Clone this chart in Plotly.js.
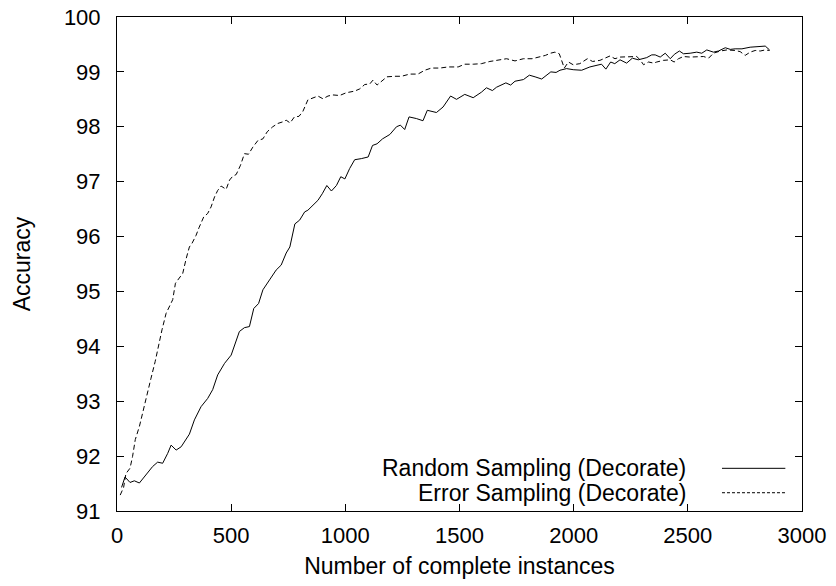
<!DOCTYPE html>
<html>
<head>
<meta charset="utf-8">
<script src="https://cdn.plot.ly/plotly-3.0.1.min.js"></script>
<style>html,body{margin:0;padding:0;background:#fff;}#chart{width:836px;height:586px;}</style>
</head>
<body>
<div id="chart"></div>
<script>
// Random Sampling (Decorate)
const randomX = [20,35,57,76,98,127,156,178,200,222,237,259,281,317,339,368,397,419,441,471,500,536,558,580,599,620,639,668,697,719,741,757,779,800,822,836,858,880,899,919,939,961,980,998,1019,1041,1070,1100,1119,1139,1163,1195,1224,1241,1260,1279,1311,1340,1359,1399,1428,1443,1461,1487,1523,1560,1596,1618,1644,1662,1684,1703,1724,1743,1780,1806,1831,1860,1900,1923,1940,1969,1998,2035,2071,2108,2122,2141,2162,2180,2203,2232,2257,2283,2320,2342,2357,2379,2401,2423,2441,2463,2481,2510,2539,2561,2583,2612,2634,2664,2686,2707,2737,2773,2803,2839,2858];
const randomY = [91.43,91.62,91.52,91.55,91.51,91.66,91.81,91.89,91.87,92.05,92.20,92.11,92.17,92.40,92.66,92.90,93.05,93.21,93.48,93.69,93.84,94.27,94.34,94.36,94.69,94.78,95.03,95.21,95.39,95.48,95.70,95.81,96.23,96.30,96.45,96.48,96.57,96.66,96.78,96.93,96.83,96.93,97.09,97.05,97.24,97.40,97.42,97.45,97.66,97.69,97.78,97.86,98.00,98.03,97.95,98.18,98.15,98.11,98.30,98.26,98.36,98.45,98.56,98.50,98.59,98.53,98.63,98.71,98.66,98.72,98.76,98.80,98.76,98.83,98.86,98.94,98.91,98.87,99.00,98.99,99.03,99.06,99.04,99.03,99.09,99.13,99.14,99.05,99.18,99.15,99.22,99.16,99.25,99.22,99.26,99.31,99.31,99.27,99.34,99.24,99.32,99.38,99.33,99.34,99.36,99.34,99.40,99.36,99.38,99.44,99.41,99.42,99.42,99.45,99.46,99.47,99.40];

// Error Sampling (Decorate)
const errorX = [14,29,39,57,68,80,98,115,132,149,167,181,197,215,229,244,256,273,288,303,317,329,346,360,380,397,412,427,441,456,478,493,507,522,541,558,576,595,617,639,658,682,704,726,741,758,777,797,814,836,858,880,902,924,946,975,1004,1041,1063,1085,1107,1121,1139,1158,1182,1216,1246,1282,1318,1348,1377,1414,1450,1494,1523,1560,1596,1633,1670,1706,1743,1780,1818,1854,1876,1898,1918,1937,1948,1959,1977,1998,2027,2060,2083,2115,2159,2181,2203,2240,2276,2291,2306,2328,2350,2364,2393,2423,2440,2459,2481,2510,2539,2569,2591,2612,2642,2671,2707,2729,2751,2773,2795,2817,2839,2858];
const errorY = [91.29,91.43,91.68,91.78,91.99,92.30,92.54,92.84,93.17,93.42,93.72,94.02,94.30,94.60,94.72,94.85,95.15,95.24,95.33,95.60,95.81,95.88,96.02,96.17,96.36,96.42,96.54,96.72,96.84,96.92,96.86,97.03,97.10,97.13,97.30,97.51,97.50,97.63,97.75,97.78,97.91,98.00,98.06,98.09,98.12,98.07,98.18,98.19,98.28,98.49,98.52,98.56,98.51,98.56,98.58,98.57,98.62,98.65,98.69,98.77,98.78,98.85,98.76,98.82,98.91,98.92,98.92,98.96,98.96,99.03,99.07,99.07,99.09,99.09,99.14,99.14,99.15,99.19,99.22,99.24,99.20,99.24,99.24,99.27,99.30,99.34,99.36,99.33,99.21,99.07,99.18,99.13,99.15,99.24,99.19,99.21,99.29,99.24,99.27,99.28,99.28,99.22,99.13,99.18,99.16,99.18,99.21,99.22,99.18,99.24,99.28,99.27,99.27,99.28,99.25,99.34,99.38,99.40,99.39,99.37,99.30,99.36,99.39,99.38,99.40,99.39];

const seriesNames = ["Random Sampling (Decorate)", "Error Sampling (Decorate)"];
const xTicks = [0,500,1000,1500,2000,2500,3000];
const yTicks = [91,92,93,94,95,96,97,98,99,100];
const xTitle = "Number of complete instances";
const yTitle = "Accuracy";

const FONT = "'Liberation Sans', Arial, Helvetica, sans-serif";
const dashStyle = "5px,3px";

const traces = [
  {x: randomX, y: randomY, type: 'scatter', mode: 'lines', name: seriesNames[0],
   line: {color: '#000', width: 1}},
  {x: errorX, y: errorY, type: 'scatter', mode: 'lines', name: seriesNames[1],
   line: {color: '#000', width: 1, dash: dashStyle}}
];

const axisCommon = {
  showline: true, linecolor: '#000', linewidth: 1, mirror: 'ticks',
  ticks: 'inside', ticklen: 7, tickwidth: 1, tickcolor: '#000',
  showgrid: false, zeroline: false,
  tickfont: {family: FONT, size: 22, color: '#000'}
};

const layout = {
  width: 836, height: 586,
  margin: {l: 117, r: 34, t: 17, b: 75, pad: 0},
  paper_bgcolor: '#fff', plot_bgcolor: '#fff',
  showlegend: false,
  font: {family: FONT, size: 22, color: '#000'},
  xaxis: Object.assign({}, axisCommon, {
    range: [0, 3000], tickmode: 'array', tickvals: xTicks, ticktext: xTicks.map(String),
    ticklabelstandoff: 5,
    title: {text: xTitle, font: {family: FONT, size: 23, color: '#000'}, standoff: 10}
  }),
  yaxis: Object.assign({}, axisCommon, {
    range: [91, 100], tickmode: 'array', tickvals: yTicks, ticktext: yTicks.map(String),
    ticklabelstandoff: 11,
    title: {text: yTitle, font: {family: FONT, size: 23, color: '#000'}, standoff: 26}
  }),
  annotations: seriesNames.map((n, i) => ({
    xref: 'paper', yref: 'paper', x: 0.8336, y: [0.0864, 0.037][i],
    xanchor: 'right', yanchor: 'middle', showarrow: false, text: n,
    font: {family: FONT, size: 23, color: '#000'}
  })),
  shapes: [0, 1].map(i => ({
    type: 'line', xref: 'paper', yref: 'paper',
    x0: 0.8832, x1: 0.9757, y0: [0.0864, 0.037][i], y1: [0.0864, 0.037][i],
    line: {color: '#000', width: 1, dash: i === 0 ? 'solid' : '3px,2px'}
  }))
};

Plotly.newPlot('chart', traces, layout, {displayModeBar: false, staticPlot: true});
</script>
</body>
</html>
